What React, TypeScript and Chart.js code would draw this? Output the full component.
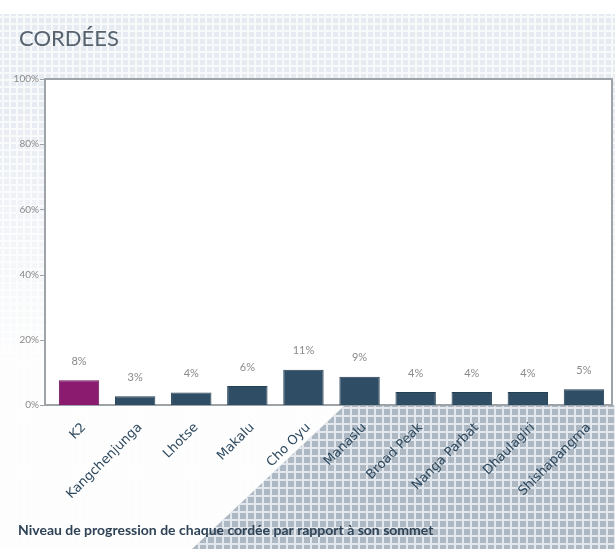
import React, { useEffect, useRef } from "react";
import { Chart, registerables } from "chart.js";

Chart.register(...registerables);

const categories = [
  "K2",
  "Kangchenjunga",
  "Lhotse",
  "Makalu",
  "Cho Oyu",
  "Manaslu",
  "Broad Peak",
  "Nanga Parbat",
  "Dhaulagiri",
  "Shishapangma",
];
const values = [7.6, 2.7, 3.8, 5.8, 10.8, 8.7, 4, 4, 4, 4.8];
const valueLabels = ["8%", "3%", "4%", "6%", "11%", "9%", "4%", "4%", "4%", "5%"];
const highlighted = ["K2"];
const yMin = 0;
const yMax = 100;
const yStep = 20;
const chartTitle = "CORDÉES";
const footerText = "Niveau de progression de chaque cordée par rapport à son sommet";

const W = 615;
const H = 549;

function gridPattern(
  ctx: CanvasRenderingContext2D,
  x0: number,
  y0: number,
  x1: number,
  y1: number,
  base: string,
  line: string,
  step: number,
  lw: number
) {
  ctx.fillStyle = base;
  ctx.fillRect(x0, y0, x1 - x0, y1 - y0);
  ctx.fillStyle = line;
  for (let x = x0 + 2; x < x1; x += step) ctx.fillRect(x, y0, lw, y1 - y0);
  for (let y = y0 + 2; y < y1; y += step) ctx.fillRect(x0, y, x1 - x0, lw);
}

const decorPlugin = {
  id: "decor",
  beforeDraw(chart: any) {
    const ctx: CanvasRenderingContext2D = chart.ctx;
    const ca = chart.chartArea;
    const frameLeft = ca.left - 6;
    ctx.save();
    ctx.fillStyle = "#ffffff";
    ctx.fillRect(0, 0, W, H);
    // light grid background
    gridPattern(ctx, 0, 14, W, H, "#e6eaf1", "#f7f9fb", 7, 2);
    const g = ctx.createLinearGradient(0, 90, 0, 360);
    g.addColorStop(0, "rgba(255,255,255,0)");
    g.addColorStop(1, "rgba(255,255,255,0.9)");
    ctx.fillStyle = g;
    ctx.fillRect(0, 90, W, H - 90);
    // dark diagonal area
    ctx.save();
    ctx.beginPath();
    ctx.moveTo(345, ca.bottom);
    ctx.lineTo(W, ca.bottom);
    ctx.lineTo(W, H);
    ctx.lineTo(192, H);
    ctx.closePath();
    ctx.clip();
    gridPattern(ctx, 180, ca.bottom, W, H, "#adb8c3", "#e3e8ee", 8, 2);
    ctx.restore();
    // plot area
    ctx.fillStyle = "#ffffff";
    ctx.fillRect(frameLeft, ca.top, ca.right - frameLeft, ca.bottom - ca.top);
    ctx.strokeStyle = "#9ea3a8";
    ctx.lineWidth = 2;
    ctx.strokeRect(frameLeft, ca.top, ca.right - frameLeft, ca.bottom - ca.top);
    // y tick marks
    const ys = chart.scales.y;
    ctx.lineWidth = 1;
    for (let v = yMin; v <= yMax; v += yStep) {
      const py = Math.round(ys.getPixelForValue(v)) + 0.5;
      ctx.beginPath();
      ctx.moveTo(frameLeft - 5, py);
      ctx.lineTo(frameLeft, py);
      ctx.stroke();
    }
    // title
    ctx.fillStyle = "#56636f";
    ctx.font = "22px Lato";
    ctx.textBaseline = "alphabetic";
    ctx.textAlign = "left";
    ctx.fillText(chartTitle, 19, 46);
    ctx.restore();
  },
  afterDatasetsDraw(chart: any) {
    const ctx: CanvasRenderingContext2D = chart.ctx;
    const meta = chart.getDatasetMeta(0);
    ctx.save();
    ctx.fillStyle = "#8a8a8a";
    ctx.font = "11px Lato";
    ctx.textAlign = "center";
    ctx.textBaseline = "middle";
    meta.data.forEach((bar: any, i: number) => {
      ctx.fillText(valueLabels[i], bar.x, bar.y - 19);
    });
    ctx.restore();
  },
  afterDraw(chart: any) {
    const ctx: CanvasRenderingContext2D = chart.ctx;
    ctx.save();
    ctx.fillStyle = "#2f4356";
    ctx.font = "bold 14px Lato";
    ctx.textAlign = "left";
    ctx.textBaseline = "alphabetic";
    ctx.fillText(footerText, 18, 535);
    ctx.restore();
  },
};

export default function App() {
  const ref = useRef<HTMLCanvasElement | null>(null);
  useEffect(() => {
    if (!ref.current) return;
    const chart = new Chart(ref.current, {
      type: "bar",
      data: {
        labels: categories,
        datasets: [
          {
            data: values,
            backgroundColor: categories.map((c) =>
              highlighted.includes(c) ? "#8b1b6f" : "#2f4e66"
            ),
            borderColor: categories.map((c) =>
              highlighted.includes(c) ? "#6e1257" : "#243e52"
            ),
            borderWidth: 1,
            barPercentage: 0.72,
            categoryPercentage: 1,
          },
        ],
      },
      options: {
        responsive: false,
        animation: false,
        layout: { padding: { top: 79, right: 3, left: 0, bottom: 0 } },
        plugins: {
          legend: { display: false },
          tooltip: { enabled: false },
          title: { display: false },
        },
        scales: {
          x: {
            grid: { display: false, drawTicks: false },
            border: { display: false },
            ticks: {
              autoSkip: false,
              maxRotation: 45,
              minRotation: 45,
              padding: 15,
              labelOffset: 5,
              color: "#2f4a5f",
              font: { family: "DejaVu Sans", size: 13 },
            },
            afterFit: (s: any) => {
              s.height = 144;
            },
          },
          y: {
            min: yMin,
            max: yMax,
            grid: { display: false, drawTicks: false },
            border: { display: false },
            ticks: {
              stepSize: yStep,
              padding: 12,
              color: "#8a8a8a",
              font: { family: "Lato", size: 10 },
              callback: (v: any) => v + "%",
            },
            afterFit: (s: any) => {
              s.width = 51;
            },
          },
        },
      },
      plugins: [decorPlugin],
    });
    return () => chart.destroy();
  }, []);
  return (
    <div style={{ position: "absolute", left: 0, top: 0, width: W, height: H }}>
      <canvas ref={ref} width={W} height={H} />
    </div>
  );
}
